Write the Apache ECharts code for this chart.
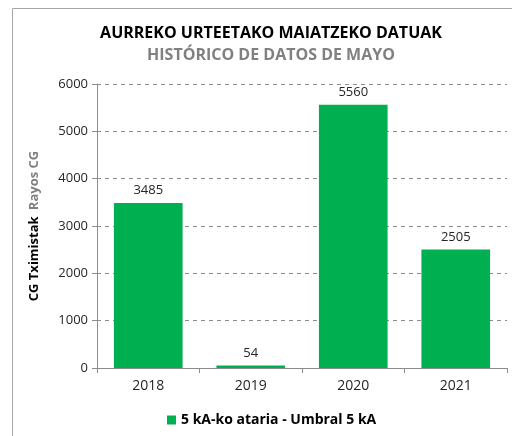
<!DOCTYPE html>
<html><head><meta charset="utf-8">
<script src="https://cdn.jsdelivr.net/npm/echarts@6/dist/echarts.min.js"></script>
<style>html,body{margin:0;padding:0;background:#fff}#c{width:512px;height:436px}</style>
</head><body><div id="c"></div>
<script>
const categories = ['2018', '2019', '2020', '2021'];
const values = [3485, 54, 5560, 2505];
const seriesName = '5 kA-ko ataria - Umbral 5 kA';
const titleText = 'AURREKO URTEETAKO MAIATZEKO DATUAK';
const subtitleText = 'HISTÓRICO DE DATOS DE MAYO';
const yNameA = 'CG Tximistak';
const yNameB = 'Rayos CG';

const FONT = 'Open Sans';
const chart = echarts.init(document.getElementById('c'), null, {renderer: 'canvas'});
chart.setOption({
  animation: false,
  textStyle: {fontFamily: FONT},
  graphic: [{
    type: 'rect', shape: {x: 12.5, y: 8.5, width: 520, height: 440},
    style: {fill: 'none', stroke: '#a6a6a6', lineWidth: 1}, silent: true
  }],
  title: {
    text: titleText, subtext: subtitleText, left: 266, textAlign: 'center', top: 20, itemGap: 6,
    textStyle: {fontFamily: FONT, fontWeight: 'bold', fontSize: 16, color: '#000'},
    subtextStyle: {fontFamily: FONT, fontWeight: 'bold', fontSize: 16, color: '#808080'}
  },
  legend: {
    data: [seriesName], bottom: 4, left: 162, itemWidth: 9, itemHeight: 9, icon: 'rect',
    textStyle: {fontFamily: FONT, fontWeight: 'bold', fontSize: 14, color: '#000'}
  },
  grid: {left: 97, right: 5, top: 84, bottom: 68, containLabel: false},
  xAxis: {
    type: 'category', data: categories,
    axisLine: {lineStyle: {color: '#8c8c8c'}},
    axisTick: {show: true, length: 5, lineStyle: {color: '#8c8c8c'}},
    axisLabel: {fontFamily: FONT, fontSize: 14, color: '#262626', margin: 11}
  },
  yAxis: {
    type: 'value', min: 0, max: 6000, interval: 1000,
    name: '{a|' + yNameA + '}  {b|' + yNameB + '}', nameLocation: 'middle', nameGap: 56, nameRotate: 90,
    nameTextStyle: {rich: {
      a: {fontFamily: FONT, fontWeight: 'bold', fontSize: 13, color: '#000'},
      b: {fontFamily: FONT, fontWeight: 'bold', fontSize: 13, color: '#808080'}
    }},
    axisLine: {show: true, lineStyle: {color: '#8c8c8c'}},
    axisTick: {show: true, length: 5, inside: false, lineStyle: {color: '#8c8c8c'}},
    axisLabel: {fontFamily: FONT, fontSize: 13, color: '#262626', margin: 9, formatter: v => String(v)},
    splitLine: {lineStyle: {color: '#8c8c8c', type: [4, 4]}}
  },
  series: [{
    name: seriesName, type: 'bar', data: values, barCategoryGap: '33%',
    itemStyle: {color: '#00B050'},
    label: {show: true, position: 'top', distance: 6, fontFamily: FONT, fontSize: 13, color: '#262626'}
  }]
});
</script></body></html>
